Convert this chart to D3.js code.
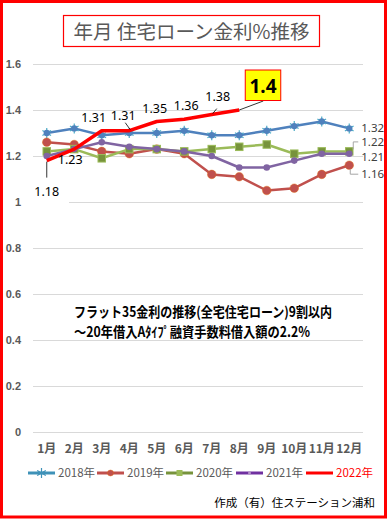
<!DOCTYPE html>
<html>
<head>
<meta charset="utf-8">
<script src="https://cdn.jsdelivr.net/npm/d3@7"></script>
<style>
  html, body { margin: 0; padding: 0; background: #fff; }
  svg { display: block; }
</style>
</head>
<body>
<svg id="chart" width="388" height="519"></svg>
<script>
// data
const months = ['1月', '2月', '3月', '4月', '5月', '6月', '7月', '8月', '9月', '10月', '11月', '12月'];
const years = ['2018年', '2019年', '2020年', '2021年', '2022年'];
const rate2018 = [1.30, 1.32, 1.29, 1.30, 1.30, 1.31, 1.29, 1.29, 1.31, 1.33, 1.35, 1.32];
const rate2019 = [1.26, 1.25, 1.22, 1.21, 1.23, 1.21, 1.12, 1.11, 1.05, 1.06, 1.12, 1.16];
const rate2020 = [1.22, 1.23, 1.19, 1.23, 1.23, 1.22, 1.23, 1.24, 1.25, 1.21, 1.22, 1.22];
const rate2021 = [1.20, 1.23, 1.26, 1.24, 1.23, 1.22, 1.20, 1.15, 1.15, 1.18, 1.21, 1.21];
const rate2022 = [1.18, 1.23, 1.31, 1.31, 1.35, 1.36, 1.38, 1.40];
const yTicks = [0, 0.2, 0.4, 0.6, 0.8, 1, 1.2, 1.4, 1.6];

const titleText = '年月 住宅ローン金利%推移';
const noteLines = ['フラット35金利の推移(全宅住宅ローン)9割以内', '～20年借入Aﾀｲﾌﾟ融資手数料借入額の2.2%'];
const footerText = '作成（有）住ステーション浦和';

const series = [
    {name: years[0], values: rate2018, color: '#4F81BD', legendColor: '#3F92B8', marker: 'star', width: 2.5},
    {name: years[1], values: rate2019, color: '#C0504D', legendColor: '#C0504D', marker: 'circle', width: 2.5},
    {name: years[2], values: rate2020, color: '#9BBB59', legendColor: '#77933C', marker: 'square', width: 2.5},
    {name: years[3], values: rate2021, color: '#8064A2', legendColor: '#7030A0', marker: 'dot', width: 2.5},
    {name: years[4], values: rate2022, color: '#FF0000', legendColor: '#FF0000', marker: null, width: 3.5}
];

const svg = d3.select('#chart');
const grey = '#595959';
const jp = '"Noto Sans CJK JP", "Noto Sans", sans-serif';
const num = '"Noto Sans", "Liberation Sans", sans-serif';

const x = d3.scaleBand().domain(months).range([33, 363]);
const y = d3.scaleLinear().domain([0, 1.6]).range([432, 64]);
const cx = m => x(m) + x.bandwidth() / 2;

// outer frame
svg.append('rect')
    .attr('x', 1.5).attr('y', 1.5).attr('width', 384).attr('height', 515.5)
    .attr('fill', '#fff').attr('stroke', '#FF0000').attr('stroke-width', 3);

// title
svg.append('rect')
    .attr('x', 63.5).attr('y', 15.5).attr('width', 256).attr('height', 31)
    .attr('fill', '#fff').attr('stroke', '#FF0000').attr('stroke-width', 1.2);
svg.append('text')
    .attr('x', 191.5).attr('y', 39)
    .attr('text-anchor', 'middle')
    .attr('font-family', jp).attr('font-size', 19.5)
    .attr('fill', grey)
    .text(titleText);

// grid + y axis
const yAxis = svg.append('g').attr('transform', 'translate(33,0)')
    .call(d3.axisLeft(y).tickValues(yTicks).tickSize(-330).tickPadding(12)
        .tickFormat(d => String(+d.toFixed(1))));
yAxis.select('.domain').remove();
yAxis.selectAll('.tick line').attr('stroke', '#D9D9D9').attr('stroke-width', 1);
yAxis.selectAll('.tick text')
    .attr('fill', grey).attr('font-weight', 'bold')
    .attr('font-size', 11).attr('font-family', '"Liberation Sans", Arial, sans-serif');

// x axis labels
const xAxis = svg.append('g').attr('transform', 'translate(0,432)')
    .call(d3.axisBottom(x).tickSize(0).tickPadding(12));
xAxis.select('.domain').remove();
xAxis.selectAll('.tick text')
    .attr('fill', grey).attr('font-weight', 'bold')
    .attr('font-size', 12).attr('font-family', jp)
    .attr('dy', '0.71em');

// note text
noteLines.forEach((t, i) => {
    svg.append('text')
        .attr('x', 74).attr('y', 317 + i * 20)
        .attr('font-family', jp).attr('font-size', 14).attr('font-weight', 'bold')
        .attr('fill', '#000')
        .attr('textLength', i === 0 ? 258 : 236)
        .attr('lengthAdjust', 'spacingAndGlyphs')
        .text(t);
});

// white box behind 1.18 label (covers grid like excel label)
svg.append('rect')
    .attr('x', 33).attr('y', 181).attr('width', 36).attr('height', 24)
    .attr('fill', '#fff');

// lines
const line = d3.line()
    .x((d, i) => cx(months[i]))
    .y(d => y(d));

function drawMarker(g, type, color, px, py, legend) {
    if (type === 'star') {
        g.append('path')
            .attr('d', d3.symbol(d3.symbolAsterisk, 70)())
            .attr('transform', `translate(${px},${py})`)
            .attr('fill', 'none').attr('stroke', legend ? '#3F92B8' : '#4BACC6').attr('stroke-width', 1.2);
        if (!legend) {
            g.append('circle').attr('cx', px).attr('cy', py).attr('r', 3.2).attr('fill', color);
        }
    } else if (type === 'circle') {
        g.append('circle').attr('cx', px).attr('cy', py).attr('r', legend ? 3 : 4.3)
            .attr('fill', color).attr('stroke', '#E46C0A').attr('stroke-width', 0.7).attr('stroke-opacity', 0.6);
    } else if (type === 'square') {
        const s = legend ? 5 : 7.5;
        g.append('rect').attr('x', px - s / 2).attr('y', py - s / 2).attr('width', s).attr('height', s)
            .attr('fill', legend ? '#9BBB59' : '#77933C').attr('stroke', color).attr('stroke-width', 1);
    } else if (type === 'dot') {
        g.append('circle').attr('cx', px).attr('cy', py).attr('r', legend ? 1.5 : 3.3)
            .attr('fill', legend ? '#B593C9' : color);
    }
}

series.forEach(s => {
    const g = svg.append('g');
    g.append('path')
        .datum(s.values)
        .attr('d', line)
        .attr('fill', 'none')
        .attr('stroke', s.color)
        .attr('stroke-width', s.width)
        .attr('stroke-linejoin', 'round');
    if (s.marker) {
        s.values.forEach((v, i) => drawMarker(g, s.marker, s.color, cx(months[i]), y(v), false));
    }
});

// 2022 labels (offset from point)
const labelOffsets = [[0, 35], [-4, 15], [-8, -9], [-6, -11], [-2, -9], [2, -9], [6, -14]];
const labels = svg.append('g')
    .attr('font-family', num).attr('font-size', 12.5).attr('fill', '#000');
rate2022.slice(0, 7).forEach((v, i) => {
    labels.append('text')
        .attr('x', cx(months[i]) + labelOffsets[i][0])
        .attr('y', y(v) + labelOffsets[i][1])
        .attr('text-anchor', 'middle')
        .text(v.toFixed(2));
});

// leader lines for 2022
const leaders = svg.append('g').attr('stroke', '#000').attr('stroke-width', 0.8);
leaders.append('line')
    .attr('x1', cx(months[0])).attr('y1', y(rate2022[0]) + 1)
    .attr('x2', cx(months[0])).attr('y2', y(rate2022[0]) + 17);
leaders.append('line')
    .attr('x1', cx(months[3]) - 4).attr('y1', y(rate2022[3]) - 8)
    .attr('x2', cx(months[3]) + 1).attr('y2', y(rate2022[3]) - 1);
leaders.append('line')
    .attr('x1', cx(months[6]) + 1).attr('y1', y(rate2022[6]) - 1)
    .attr('x2', cx(months[6]) + 5).attr('y2', y(rate2022[6]) - 6);

// 1.4 callout
const p8x = cx(months[7]), p8y = y(rate2022[7]);
leaders.append('line')
    .attr('x1', p8x).attr('y1', p8y)
    .attr('x2', p8x + 24).attr('y2', p8y - 9);
svg.append('rect')
    .attr('x', p8x + 6).attr('y', p8y - 40).attr('width', 35.5).attr('height', 30.5)
    .attr('fill', '#FFFF00').attr('stroke', '#FF0000').attr('stroke-width', 1);
svg.append('text')
    .attr('x', p8x + 23.75).attr('y', p8y - 17.5)
    .attr('text-anchor', 'middle')
    .attr('font-family', num).attr('font-size', 19).attr('font-weight', 'bold')
    .attr('fill', '#000')
    .text(String(rate2022[7]));

// right-hand end labels
const endX = cx(months[11]);
const endLabels = svg.append('g')
    .attr('font-family', num).attr('font-size', 11.5).attr('fill', '#404040');
[[rate2018[11], 0], [rate2020[11], -9.5], [rate2021[11], 3], [rate2019[11], 9]].forEach(([v, dy]) => {
    endLabels.append('text')
        .attr('x', endX + 12).attr('y', y(v) + dy)
        .attr('dy', '0.35em')
        .text(v.toFixed(2));
});
const greyLead = svg.append('g').attr('stroke', '#A6A6A6').attr('stroke-width', 1).attr('fill', 'none');
greyLead.append('path')
    .attr('d', `M${endX + 4},${y(rate2020[11]) - 2} V${y(rate2020[11]) - 9.5} H${endX + 9}`);
greyLead.append('path')
    .attr('d', `M${endX + 1},${y(rate2019[11]) + 4} V${y(rate2019[11]) + 9} H${endX + 9}`);

// legend
const legendX = [28, 97, 166, 236, 306];
const legend = svg.append('g').attr('transform', 'translate(0,473)');
series.forEach((s, i) => {
    const lx = legendX[i];
    legend.append('line')
        .attr('x1', lx).attr('x2', lx + 27)
        .attr('y1', 0).attr('y2', 0)
        .attr('stroke', s.legendColor).attr('stroke-width', 3);
    if (s.marker) drawMarker(legend, s.marker, s.color, lx + 13.5, 0, true);
    legend.append('text')
        .attr('x', lx + 30).attr('y', 0).attr('dy', '0.36em')
        .attr('font-family', jp).attr('font-size', 11.5)
        .attr('fill', i === 4 ? '#FF0000' : grey)
        .text(s.name);
});

// footer
svg.append('text')
    .attr('x', 375).attr('y', 507)
    .attr('text-anchor', 'end')
    .attr('font-family', jp).attr('font-size', 11.5)
    .attr('fill', '#000')
    .text(footerText);
</script>
</body>
</html>
